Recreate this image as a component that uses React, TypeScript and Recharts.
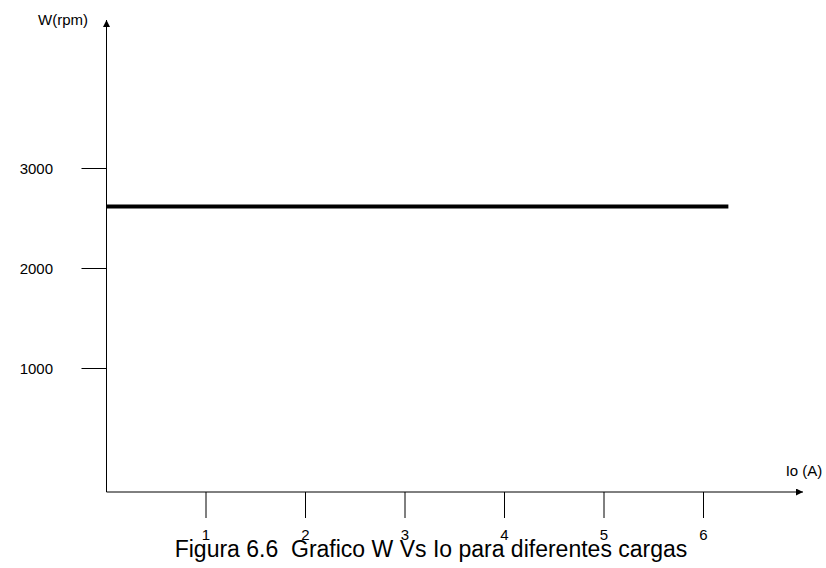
import React from 'react';
import { LineChart, Line, XAxis, YAxis } from 'recharts';

// Data
const ioValues = [0, 6.25];
const speedValues = [2620, 2620];
const xTicks = [1, 2, 3, 4, 5, 6];
const yTicks = [1000, 2000, 3000];
const xDomain = [0, 7];
const yDomain = [-235, 4485];

const data = ioValues.map((io, i) => ({ io, w: speedValues[i] }));

const FONT = '"Liberation Sans", Arial, sans-serif';

export default function App() {
  return (
    <div style={{ position: 'absolute', left: 0, top: 0, width: 826, height: 568, background: '#fff', fontFamily: FONT }}>
      <svg width="0" height="0" style={{ position: 'absolute' }}>
        <defs>
          <marker
            id="arrowhead"
            viewBox="0 0 10 10"
            refX="10"
            refY="5"
            markerWidth="9"
            markerHeight="7"
            markerUnits="userSpaceOnUse"
            orient="auto-start-reverse"
          >
            <path d="M0,0 L10,5 L0,10 z" fill="#000" />
          </marker>
        </defs>
      </svg>
      <LineChart
        width={826}
        height={568}
        data={data}
        margin={{ top: 20, right: 23, bottom: 0, left: 46.5 }}
      >
        <XAxis
          dataKey="io"
          type="number"
          domain={xDomain}
          ticks={xTicks}
          height={76}
          tickSize={26}
          tickMargin={11}
          stroke="#000"
          axisLine={{ stroke: '#000', strokeWidth: 1, markerEnd: 'url(#arrowhead)' }}
          tickLine={{ stroke: '#000', strokeWidth: 1 }}
          tick={{ fill: '#000', fontSize: 15, fontFamily: FONT }}
        />
        <YAxis
          type="number"
          domain={yDomain}
          ticks={yTicks}
          width={60}
          tickSize={25}
          tickMargin={28.5}
          stroke="#000"
          axisLine={{ stroke: '#000', strokeWidth: 1, markerStart: 'url(#arrowhead)' }}
          tickLine={{ stroke: '#000', strokeWidth: 1 }}
          tick={{ fill: '#000', fontSize: 15, fontFamily: FONT }}
        />
        <Line
          dataKey="w"
          stroke="#000"
          strokeWidth={4}
          dot={false}
          activeDot={false}
          isAnimationActive={false}
        />
      </LineChart>
      <div style={{ position: 'absolute', left: 63, top: 19, transform: 'translate(-50%, -50%)', fontSize: 15, color: '#000', whiteSpace: 'nowrap' }}>
        W(rpm)
      </div>
      <div style={{ position: 'absolute', left: 804, top: 470, transform: 'translate(-50%, -50%)', fontSize: 15, color: '#000', whiteSpace: 'nowrap' }}>
        Io (A)
      </div>
      <div style={{ position: 'absolute', left: 431, top: 549, transform: 'translate(-50%, -50%)', fontSize: 23, lineHeight: '26px', color: '#000', whiteSpace: 'pre' }}>
        {'Figura 6.6  Grafico W Vs Io para diferentes cargas'}
      </div>
    </div>
  );
}
